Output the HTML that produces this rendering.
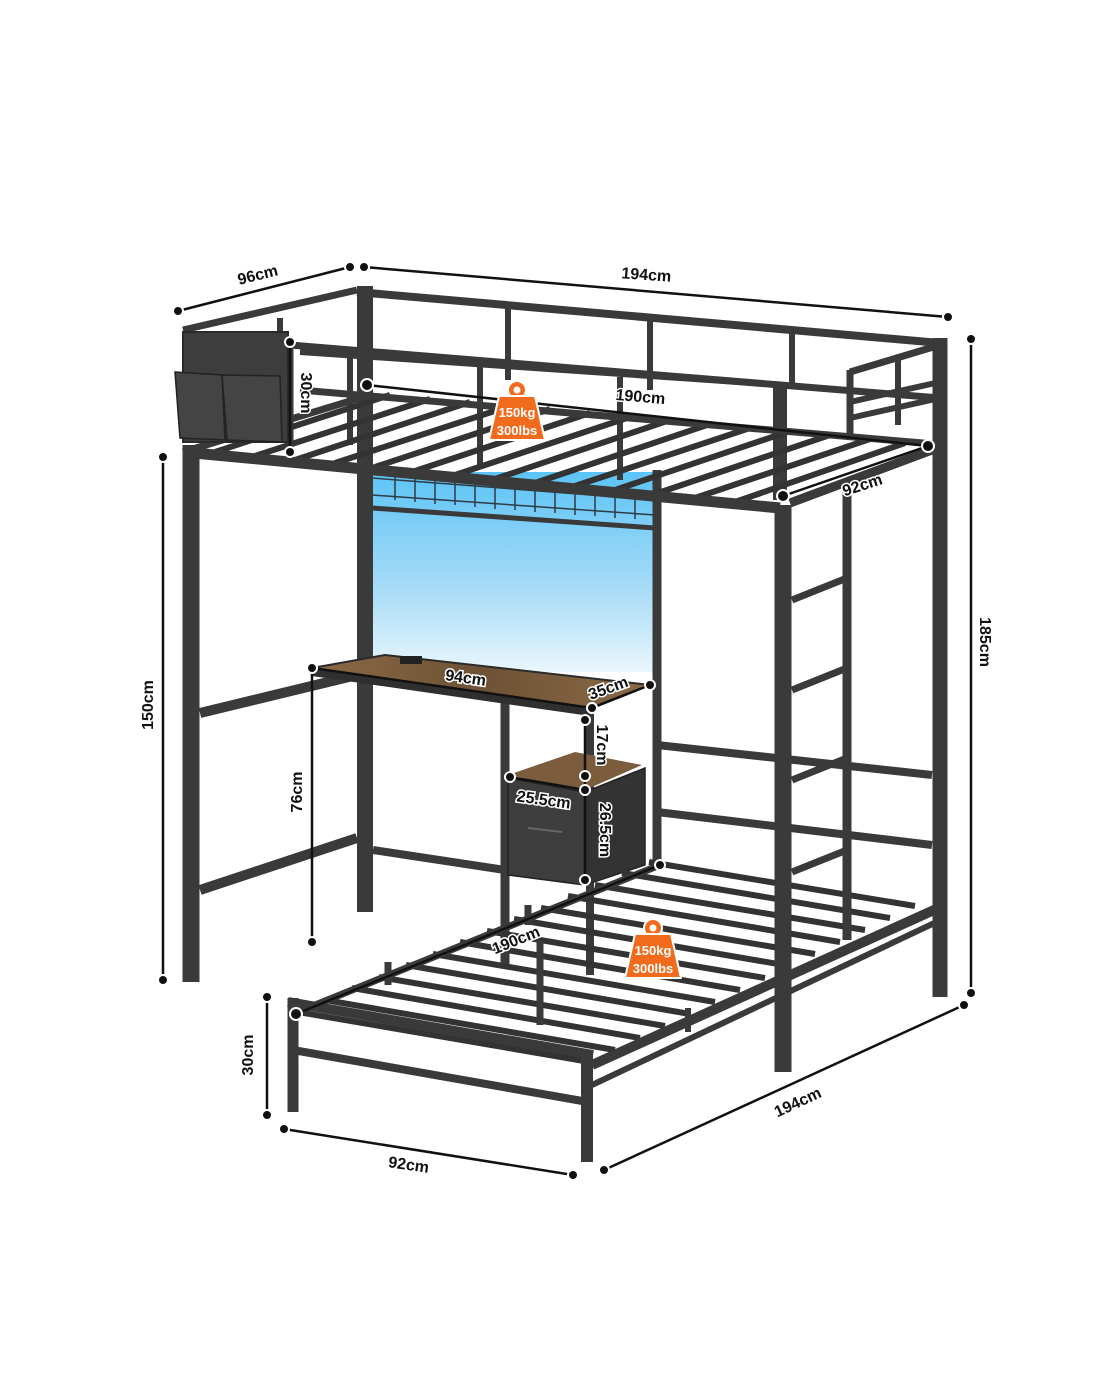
<!DOCTYPE html>
<html><head><meta charset="utf-8"><style>
html,body{margin:0;padding:0;background:#fff;}
svg{display:block}
.t{font-family:"Liberation Sans",sans-serif;font-weight:bold;font-size:16px;fill:#111;stroke:#fff;stroke-width:3px;paint-order:stroke;}
.w{font-family:"Liberation Sans",sans-serif;font-weight:bold;font-size:13px;fill:#fff;}
</style></head><body>
<svg width="1100" height="1375" viewBox="0 0 1100 1375" xmlns="http://www.w3.org/2000/svg">
<defs>
<linearGradient id="sc" x1="0" y1="0" x2="0" y2="1"><stop offset="0" stop-color="#5cc4f6"/><stop offset="0.6" stop-color="#a9dcf7"/><stop offset="1" stop-color="#eaf6fd"/></linearGradient>
<linearGradient id="wd" x1="0" y1="0" x2="1" y2="0"><stop offset="0" stop-color="#8a6a45"/><stop offset="0.5" stop-color="#6e5236"/><stop offset="1" stop-color="#8a6a45"/></linearGradient>
</defs>
<g stroke="#3a3a3a" stroke-linecap="butt" fill="none">
<rect x="372" y="472" width="283" height="200" fill="url(#sc)" stroke="none"/>
<g stroke="#2f3a44" stroke-width="1.5">
<line x1="372" y1="478" x2="655" y2="500"/><line x1="372" y1="495" x2="655" y2="515"/>
<line x1="395" y1="475" x2="395" y2="500"/><line x1="415" y1="476" x2="415" y2="502"/><line x1="435" y1="478" x2="435" y2="504"/><line x1="455" y1="479" x2="455" y2="505"/><line x1="475" y1="481" x2="475" y2="507"/><line x1="495" y1="482" x2="495" y2="509"/><line x1="515" y1="484" x2="515" y2="510"/><line x1="535" y1="485" x2="535" y2="512"/><line x1="555" y1="487" x2="555" y2="513"/><line x1="575" y1="488" x2="575" y2="515"/><line x1="595" y1="490" x2="595" y2="516"/><line x1="615" y1="491" x2="615" y2="518"/><line x1="635" y1="493" x2="635" y2="519"/>
</g>
<line x1="372" y1="508" x2="655" y2="528" stroke-width="5"/>
<line x1="365" y1="286" x2="365" y2="912" stroke-width="16"/>
<line x1="940" y1="338" x2="940" y2="997" stroke-width="15"/>
<line x1="657" y1="470" x2="657" y2="870" stroke-width="9"/>
<line x1="357" y1="292" x2="940" y2="343" stroke-width="8"/>
<line x1="357" y1="290" x2="183" y2="330" stroke-width="7"/>
<line x1="290" y1="345" x2="940" y2="398" stroke-width="7"/>
<line x1="290" y1="345" x2="290" y2="452" stroke-width="7"/>
<line x1="508" y1="305" x2="508" y2="380" stroke-width="6"/><line x1="650" y1="318" x2="650" y2="390" stroke-width="6"/><line x1="792" y1="330" x2="792" y2="385" stroke-width="6"/>
<line x1="280" y1="318" x2="280" y2="342" stroke-width="6"/>
<line x1="300" y1="352" x2="782" y2="385" stroke-width="6"/>
<line x1="350" y1="355" x2="350" y2="445" stroke-width="6"/>
<line x1="480" y1="365" x2="480" y2="465" stroke-width="6"/>
<line x1="620" y1="377" x2="620" y2="480" stroke-width="6"/>
<line x1="780" y1="385" x2="780" y2="500" stroke-width="14"/>
<line x1="850" y1="372" x2="940" y2="345" stroke-width="7"/>
<line x1="850" y1="370" x2="850" y2="438" stroke-width="7"/>
<line x1="898" y1="358" x2="898" y2="425" stroke-width="6"/>
<line x1="850" y1="402" x2="940" y2="382" stroke-width="6"/>
<line x1="850" y1="418" x2="940" y2="398" stroke-width="6"/>
<g stroke-width="6" stroke="#333">
<line x1="215" y1="452" x2="390" y2="395"/><line x1="255" y1="456" x2="430" y2="399"/><line x1="295" y1="460" x2="470" y2="402"/><line x1="335" y1="463" x2="510" y2="406"/><line x1="375" y1="467" x2="550" y2="409"/><line x1="415" y1="471" x2="590" y2="413"/><line x1="455" y1="475" x2="630" y2="417"/><line x1="495" y1="479" x2="670" y2="420"/><line x1="535" y1="483" x2="710" y2="424"/><line x1="575" y1="486" x2="750" y2="428"/><line x1="615" y1="490" x2="790" y2="431"/><line x1="655" y1="494" x2="830" y2="435"/><line x1="695" y1="498" x2="870" y2="439"/><line x1="735" y1="502" x2="905" y2="443"/>
</g>
<line x1="300" y1="390" x2="935" y2="444" stroke-width="7"/>
<line x1="183" y1="452" x2="780" y2="508" stroke-width="11"/>
<line x1="183" y1="452" x2="360" y2="398" stroke-width="7"/>
<line x1="790" y1="503" x2="940" y2="447" stroke-width="9"/>
<rect x="183" y="332" width="105" height="110" fill="#3d3d3d" stroke="#2a2a2a" stroke-width="2"/>
<path d="M175 372 L222 375 L225 440 L180 438 Z" fill="#444" stroke="#222" stroke-width="1.5"/>
<path d="M222 375 L280 376 L282 442 L227 440 Z" fill="#444" stroke="#222" stroke-width="1.5"/>
<line x1="191" y1="445" x2="191" y2="982" stroke-width="17"/>
<line x1="200" y1="713" x2="357" y2="675" stroke-width="10"/>
<line x1="200" y1="890" x2="357" y2="838" stroke-width="10"/>
<line x1="373" y1="850" x2="505" y2="870" stroke-width="8"/>
<line x1="505" y1="700" x2="505" y2="965" stroke-width="9"/>
<line x1="590" y1="710" x2="590" y2="975" stroke-width="8"/>
<path d="M312 668 L590 708 L650 685 L385 655 Z" fill="url(#wd)" stroke="#2a2a2a" stroke-width="2"/>
<path d="M312 668 L590 708 L590 716 L312 676 Z" fill="#2f2f2f" stroke="none"/>
<rect x="400" y="656" width="22" height="8" fill="#222" stroke="none"/>
<path d="M508 775 L585 790 L642 765 L575 752 Z" fill="#7b5c3c" stroke="none"/>
<path d="M508 778 L585 792 L585 885 L508 875 Z" fill="#3d3d3d" stroke="#222" stroke-width="1.5"/>
<path d="M585 792 L645 768 L645 865 L585 885 Z" fill="#333" stroke="#222" stroke-width="1.5"/>
<path d="M528 828 L562 832" stroke="#666" stroke-width="2"/>
<line x1="657" y1="745" x2="932" y2="775" stroke-width="8"/>
<line x1="657" y1="812" x2="932" y2="845" stroke-width="8"/>
<g stroke-width="6" stroke="#333">
<line x1="298" y1="1012" x2="590" y2="1062"/><line x1="325" y1="1000" x2="615" y2="1050"/><line x1="352" y1="988" x2="640" y2="1038"/><line x1="379" y1="977" x2="665" y2="1026"/><line x1="406" y1="965" x2="690" y2="1014"/><line x1="433" y1="954" x2="715" y2="1002"/><line x1="460" y1="942" x2="740" y2="990"/><line x1="487" y1="931" x2="765" y2="978"/><line x1="514" y1="919" x2="790" y2="966"/><line x1="541" y1="908" x2="815" y2="954"/><line x1="568" y1="896" x2="840" y2="942"/><line x1="595" y1="885" x2="865" y2="930"/><line x1="622" y1="873" x2="890" y2="918"/><line x1="649" y1="862" x2="915" y2="906"/>
</g>
<line x1="298" y1="1012" x2="660" y2="865" stroke-width="7"/>
<line x1="388" y1="962" x2="388" y2="985" stroke-width="7"/>
<line x1="528" y1="905" x2="528" y2="925" stroke-width="7"/>
<line x1="540" y1="940" x2="540" y2="1025" stroke-width="7"/>
<line x1="847" y1="492" x2="847" y2="940" stroke-width="9"/>
<line x1="792" y1="600" x2="847" y2="578" stroke-width="7"/>
<line x1="792" y1="690" x2="847" y2="668" stroke-width="7"/>
<line x1="792" y1="780" x2="847" y2="758" stroke-width="7"/>
<line x1="792" y1="872" x2="847" y2="850" stroke-width="7"/>
<line x1="783" y1="505" x2="783" y2="1072" stroke-width="17"/>
<line x1="592" y1="1065" x2="945" y2="905" stroke-width="10"/>
<line x1="592" y1="1085" x2="945" y2="918" stroke-width="6"/>
<line x1="288" y1="1002" x2="593" y2="1055" stroke-width="10"/>
<line x1="293" y1="1050" x2="588" y2="1102" stroke-width="8"/>
<line x1="293" y1="998" x2="293" y2="1112" stroke-width="11"/>
<line x1="587" y1="1052" x2="587" y2="1162" stroke-width="12"/>
<line x1="688" y1="1008" x2="688" y2="1032" stroke-width="6"/>
</g>
<g stroke="#111" stroke-width="2.5" fill="none">
<line x1="178" y1="311" x2="350" y2="267"/>
<line x1="364" y1="267" x2="948" y2="317"/>
<line x1="971" y1="339" x2="971" y2="993"/>
<line x1="163" y1="457" x2="163" y2="980"/>
<line x1="290" y1="342" x2="290" y2="452"/>
<line x1="367" y1="385" x2="928" y2="446"/>
<line x1="783" y1="496" x2="928" y2="446"/>
<line x1="312" y1="668" x2="312" y2="942"/>
<line x1="312" y1="668" x2="592" y2="708"/>
<line x1="592" y1="708" x2="650" y2="685"/>
<line x1="585" y1="720" x2="585" y2="880"/>
<line x1="510" y1="777" x2="585" y2="790"/>
<line x1="296" y1="1014" x2="660" y2="865"/>
<line x1="267" y1="997" x2="267" y2="1115"/>
<line x1="284" y1="1129" x2="573" y2="1175"/>
<line x1="604" y1="1170" x2="964" y2="1005"/>
</g>
<g fill="#111" stroke="#fff" stroke-width="2">
<circle cx="178" cy="311" r="5"/><circle cx="350" cy="267" r="5"/><circle cx="364" cy="267" r="5"/><circle cx="948" cy="317" r="5"/>
<circle cx="971" cy="339" r="5"/><circle cx="971" cy="993" r="5"/><circle cx="163" cy="457" r="5"/><circle cx="163" cy="980" r="5"/>
<circle cx="290" cy="342" r="5"/><circle cx="290" cy="452" r="5"/><circle cx="367" cy="385" r="6"/><circle cx="928" cy="446" r="6"/><circle cx="783" cy="496" r="6"/>
<circle cx="312" cy="668" r="5"/><circle cx="312" cy="942" r="5"/><circle cx="592" cy="708" r="5"/><circle cx="650" cy="685" r="5"/>
<circle cx="585" cy="720" r="5"/><circle cx="585" cy="776" r="5"/><circle cx="585" cy="790" r="5"/><circle cx="585" cy="880" r="5"/><circle cx="510" cy="777" r="5"/>
<circle cx="296" cy="1014" r="6"/><circle cx="660" cy="865" r="5"/>
<circle cx="267" cy="997" r="5"/><circle cx="267" cy="1115" r="5"/><circle cx="284" cy="1129" r="5"/><circle cx="573" cy="1175" r="5"/><circle cx="604" cy="1170" r="5"/><circle cx="964" cy="1005" r="5"/>
</g>
<text class="t" transform="translate(259,280) rotate(-14)" text-anchor="middle">96cm</text>
<text class="t" transform="translate(646,280) rotate(4)" text-anchor="middle">194cm</text>
<text class="t" transform="translate(980,642) rotate(90)" text-anchor="middle">185cm</text>
<text class="t" transform="translate(153,705) rotate(-90)" text-anchor="middle">150cm</text>
<text class="t" transform="translate(301,393) rotate(90)" text-anchor="middle">30cm</text>
<text class="t" transform="translate(640,402) rotate(5)" text-anchor="middle">190cm</text>
<text class="t" transform="translate(864,490) rotate(-18)" text-anchor="middle">92cm</text>
<text class="t" transform="translate(465,683) rotate(8)" text-anchor="middle">94cm</text>
<text class="t" transform="translate(610,693) rotate(-20)" text-anchor="middle">35cm</text>
<text class="t" transform="translate(597,745) rotate(90)" text-anchor="middle">17cm</text>
<text class="t" transform="translate(543,805) rotate(8)" text-anchor="middle">25.5cm</text>
<text class="t" transform="translate(600,830) rotate(90)" text-anchor="middle">26.5cm</text>
<text class="t" transform="translate(302,792) rotate(-90)" text-anchor="middle">76cm</text>
<text class="t" transform="translate(518,945) rotate(-22)" text-anchor="middle">190cm</text>
<text class="t" transform="translate(253,1055) rotate(-90)" text-anchor="middle">30cm</text>
<text class="t" transform="translate(408,1170) rotate(8)" text-anchor="middle">92cm</text>
<text class="t" transform="translate(800,1107) rotate(-25)" text-anchor="middle">194cm</text>
<g transform="translate(517,412)">
<circle cx="0" cy="-22" r="9" fill="#f26b1d" stroke="#fff" stroke-width="2"/><circle cx="0" cy="-22" r="3.5" fill="#fff"/>
<path d="M-18 -16 L18 -16 L28 28 L-28 28 Z" fill="#f26b1d" stroke="#fff" stroke-width="2" stroke-linejoin="round"/>
<text class="w" x="0" y="5" text-anchor="middle">150kg</text><text class="w" x="0" y="23" text-anchor="middle">300lbs</text>
</g>
<g transform="translate(653,950)">
<circle cx="0" cy="-22" r="9" fill="#f26b1d" stroke="#fff" stroke-width="2"/><circle cx="0" cy="-22" r="3.5" fill="#fff"/>
<path d="M-18 -16 L18 -16 L28 28 L-28 28 Z" fill="#f26b1d" stroke="#fff" stroke-width="2" stroke-linejoin="round"/>
<text class="w" x="0" y="5" text-anchor="middle">150kg</text><text class="w" x="0" y="23" text-anchor="middle">300lbs</text>
</g>
</svg>
</body></html>
